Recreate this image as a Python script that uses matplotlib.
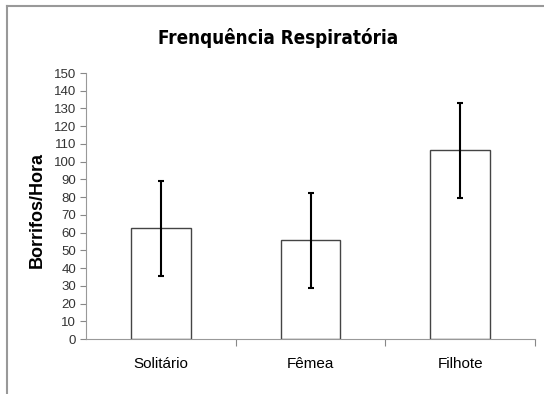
import matplotlib
matplotlib.use("Agg")
import matplotlib.pyplot as plt
import numpy as np

categories = ["Solitário", "Fêmea", "Filhote"]
means = [62.4, 55.7, 106.4]
errors = [26.8, 26.7, 26.7]
yticks = list(range(0, 151, 10))

plt.rcParams["font.family"] = ["Liberation Sans", "DejaVu Sans"]

fig = plt.figure(figsize=(5.44, 3.94), dpi=100)
W, H = 544, 394
ax = fig.add_axes([86 / W, 1 - 339 / H, (535 - 86) / W, (339 - 73) / H])

x = np.arange(len(categories))
ax.bar(x, means, width=0.4, color="white", edgecolor="#444444", linewidth=1.0)
ax.errorbar(x, means, yerr=errors, fmt="none", ecolor="black", elinewidth=1.5,
            capsize=2.3, capthick=1.5)

ax.set_xlim(-0.5, 2.5)
ax.set_ylim(0, 150)
ax.set_yticks(yticks)
ax.tick_params(axis="y", labelsize=9.5, length=4, color="#888888", direction="out",
               labelcolor="#333333", pad=3)
ax.set_xticks([0.5, 1.5, 2.5])
ax.set_xticklabels([])
ax.set_xticks(x, minor=True)
ax.set_xticklabels(categories, minor=True, fontsize=11)
ax.tick_params(axis="x", which="major", length=5, color="#888888", direction="out")
ax.tick_params(axis="x", which="minor", length=0, pad=13)
for s in ["top", "right"]:
    ax.spines[s].set_visible(False)
for s in ["left", "bottom"]:
    ax.spines[s].set_color("#999999")

fig.text(37 / W, 1 - 210 / H, "Borrifos/Hora", rotation=90, ha="center", va="center",
         fontsize=13, fontweight="bold")
fig.text(278 / W, 1 - 38 / H, "Frenquência Respiratória", ha="center", va="center",
         fontsize=13.5, fontweight="bold", fontstretch="condensed",
         family=["DejaVu Sans"])

# chart area frame (top and left)
fig.add_artist(plt.Line2D([7 / W, 1], [1 - 6 / H, 1 - 6 / H], color="#999999", lw=1.5))
fig.add_artist(plt.Line2D([7 / W, 7 / W], [0, 1 - 6 / H], color="#999999", lw=1.5))

fig.savefig("out.png", dpi=100)
